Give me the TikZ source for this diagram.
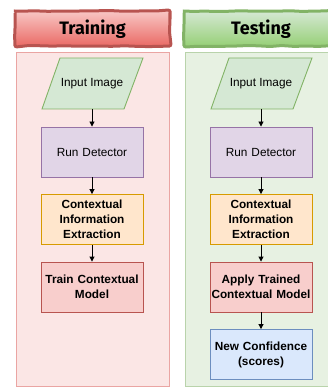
\documentclass[tikz,border=0pt]{standalone}
\usepackage{fontspec}
\setmainfont{Liberation Sans}
\newfontfamily\titlefont{Fira Sans}
\usetikzlibrary{arrows.meta,decorations.pathmorphing}
\definecolor{panelR}{HTML}{FBE6E5}
\definecolor{panelRline}{HTML}{EAA5A3}
\definecolor{panelG}{HTML}{E7F1E2}
\definecolor{panelGline}{HTML}{B9D3AB}
\definecolor{inFill}{HTML}{D5E8D4}
\definecolor{inLine}{HTML}{82B366}
\definecolor{rdFill}{HTML}{E1D5E7}
\definecolor{rdLine}{HTML}{9673A6}
\definecolor{ceFill}{HTML}{FFE6CC}
\definecolor{ceLine}{HTML}{D79B00}
\definecolor{trFill}{HTML}{F8CECC}
\definecolor{trLine}{HTML}{B85450}
\definecolor{ncFill}{HTML}{DAE8FC}
\definecolor{ncLine}{HTML}{6C8EBF}
\definecolor{hdRtop}{HTML}{F8C6C4}
\definecolor{hdRbot}{HTML}{EA6B66}
\definecolor{hdGtop}{HTML}{D5E8D4}
\definecolor{hdGbot}{HTML}{97D077}
\tikzset{
  x=1pt,y=-1pt,
  box/.style={draw, line width=0.9pt, minimum width=102pt, minimum height=50pt,
    text width=102pt, align=center, inner sep=0pt, font=\fontsize{11.8}{15}\selectfont},
  bbox/.style={box, font=\fontsize{11.8}{15}\selectfont\bfseries},
  intext/.style={minimum width=102pt, minimum height=51pt, inner sep=0pt,
    font=\fontsize{11.8}{15}\selectfont},
  para/.style={draw=inLine, fill=inFill, line width=0.9pt},
  flow/.style={-{Triangle[length=5pt,width=5pt]}, line width=0.9pt, black},
  header/.style={line width=3pt, rounded corners=2pt,
    decorate, decoration={random steps, segment length=12pt, amplitude=0.6pt}},
  titletext/.style={font=\titlefont\fontsize{18}{20}\selectfont\bfseries}
}
\begin{document}
\begin{tikzpicture}
\useasboundingbox (0,0) rectangle (328,387);
\begin{scope}
\clip (0,0) rectangle (328,387);
% panels
\fill[panelR] (16,52) rectangle (169,386);
\draw[panelRline, line width=0.9pt] (16,52) rectangle (169,386);
\fill[panelG] (185,52) rectangle (338,386);
\draw[panelGline, line width=0.9pt] (185,52) rectangle (338,386);
% headers
\shade[top color=hdRtop, bottom color=hdRbot] (15,11) rectangle (170,46);
\draw[header, trLine] (15,11) rectangle (170,46);
\node[titletext] (htr) at (92.5,29) {Training};
\shade[top color=hdGtop, bottom color=hdGbot] (184,11) rectangle (339,46);
\draw[header, inLine] (184,11) rectangle (339,46);
\node[titletext] (hte) at (261,29) {Testing};
\end{scope}
% training column
\draw[para] (60,58) -- (143,58) -- (124,109) -- (42,109) -- cycle;
\node[intext] (a1) at (92,83.5) {Input Image};
\node[box, draw=rdLine, fill=rdFill] (a2) at (92,152) {Run Detector};
\node[bbox, draw=ceLine, fill=ceFill] (a3) at (92,219.5) {Contextual\\Information\\Extraction};
\node[bbox, draw=trLine, fill=trFill] (a4) at (92,287) {Train Contextual\\Model};
\draw[flow] (a1) -- (a2);
\draw[flow] (a2) -- (a3);
\draw[flow] (a3) -- (a4);
% testing column
\draw[para] (229,58) -- (312,58) -- (293,109) -- (211,109) -- cycle;
\node[intext] (b1) at (261,83.5) {Input Image};
\node[box, draw=rdLine, fill=rdFill] (b2) at (261,152) {Run Detector};
\node[bbox, draw=ceLine, fill=ceFill] (b3) at (261,219.5) {Contextual\\Information\\Extraction};
\node[bbox, draw=trLine, fill=trFill] (b4) at (261,287) {Apply Trained\\Contextual Model};
\node[bbox, draw=ncLine, fill=ncFill] (b5) at (261,354.5) {New Confidence\\(scores)};
\draw[flow] (b1) -- (b2);
\draw[flow] (b2) -- (b3);
\draw[flow] (b3) -- (b4);
\draw[flow] (b4) -- (b5);
\end{tikzpicture}
\end{document}
